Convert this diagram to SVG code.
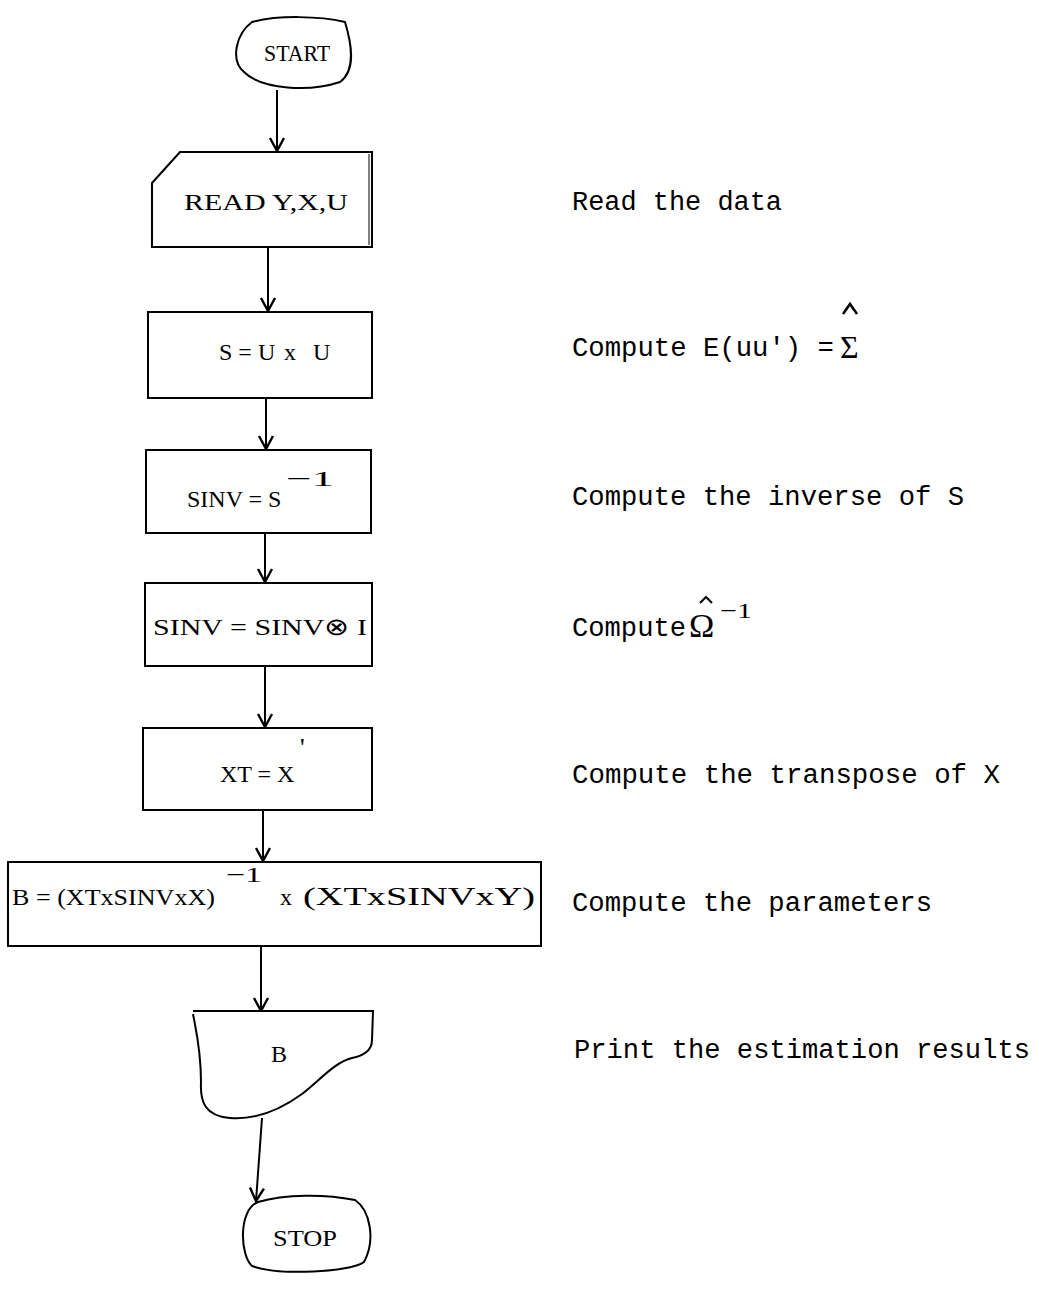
<svg xmlns="http://www.w3.org/2000/svg" width="1039" height="1295" viewBox="0 0 1039 1295">
<defs>
<marker id="ah" viewBox="0 0 20 20" refX="17" refY="10" markerWidth="20" markerHeight="20" markerUnits="userSpaceOnUse" orient="auto">
<path d="M4,3 L17,10 L4,17" fill="none" stroke="#000" stroke-width="2.4"/>
</marker>
<style>
.sh{fill:#fff;stroke:#000;stroke-width:2}
.bt{font-family:"Liberation Serif",serif;font-size:24px;fill:#000}
.sup{font-family:"Liberation Serif",serif;font-size:22px;fill:#000}
.lb{font-family:"Liberation Mono",monospace;font-size:27px;fill:#000}
.cn{fill:none;stroke:#000;stroke-width:2;marker-end:url(#ah)}
</style>
</defs>
<rect width="1039" height="1295" fill="#fff"/>
<g id="connectors">
<path class="cn" d="M277,90 L277,151"/>
<path class="cn" d="M268,248 L268,311"/>
<path class="cn" d="M266,398 L266,449"/>
<path class="cn" d="M265,533 L265,582"/>
<path class="cn" d="M265,666 L265,727"/>
<path class="cn" d="M263,810 L263,861"/>
<path class="cn" d="M261,946 L261,1011"/>
<path class="cn" d="M262,1118 L256,1201"/>
</g>
<g id="start">
<path class="sh" d="M252,22 C236,34 230,60 244,72 C262,90 310,92 340,82 C356,70 352,45 345,22 C320,16 278,15 252,22 Z"/>
<text class="bt" x="264" y="61" textLength="66" lengthAdjust="spacingAndGlyphs" style="font-size:23px">START</text>
</g>
<g id="read">
<path class="sh" d="M180,152 L372,152 L372,247 L152,247 L152,183 Z"/>
<line x1="369" y1="154" x2="369" y2="245" stroke="#000" stroke-width="1"/>
<text class="bt" x="184" y="210" textLength="164" lengthAdjust="spacingAndGlyphs" style="font-size:23px">READ Y,X,U</text>
</g>
<g id="s">
<rect class="sh" x="148" y="312" width="224" height="86"/>
<text class="bt" x="219" y="360">S = U</text>
<text class="bt" x="284" y="360">x</text>
<text class="bt" x="313" y="360">U</text>
</g>
<g id="sinv">
<rect class="sh" x="146" y="450" width="225" height="83"/>
<text class="bt" x="187" y="507">SINV = S</text>
<text class="sup" x="286" y="486" textLength="48" lengthAdjust="spacingAndGlyphs">−1</text>
</g>
<g id="kron">
<rect class="sh" x="145" y="583" width="227" height="83"/>
<text class="bt" x="153" y="635" textLength="214" lengthAdjust="spacingAndGlyphs">SINV = SINV⊗ I</text>
</g>
<g id="xt">
<rect class="sh" x="143" y="728" width="229" height="82"/>
<text class="bt" x="220" y="782">XT = X</text>
<text class="sup" x="300" y="756" style="font-size:26px">'</text>
</g>
<g id="b">
<rect class="sh" x="8" y="862" width="533" height="84"/>
<text class="bt" x="12" y="905" textLength="203" lengthAdjust="spacingAndGlyphs">B = (XTxSINVxX)</text>
<text class="sup" x="226" y="882" textLength="36" lengthAdjust="spacingAndGlyphs">−1</text>
<text class="bt" x="280" y="905">x</text>
<text class="bt" x="303" y="905" textLength="232" lengthAdjust="spacingAndGlyphs" style="font-size:25px">(XTxSINVxY)</text>
</g>
<g id="print">
<path class="sh" d="M193,1011 L373,1011 L372,1040 C372,1052 362,1056 352,1058 C335,1062 320,1080 302,1094 C280,1110 255,1120 230,1118 C205,1116 200,1102 201,1082 C201,1050 196,1030 193,1014"/>
<line x1="193" y1="1011" x2="373" y2="1011" stroke="#000" stroke-width="2"/>
<text class="bt" x="279" y="1062" text-anchor="middle">B</text>
</g>
<g id="stop">
<path class="sh" d="M258,1202 C238,1210 240,1255 252,1266 C280,1276 350,1272 364,1262 C376,1240 370,1210 355,1200 C325,1194 285,1194 258,1202 Z"/>
<text class="bt" x="273" y="1246" textLength="64" lengthAdjust="spacingAndGlyphs" style="font-size:23px">STOP</text>
</g>
<g id="labels">
<text class="lb" x="572" y="210" textLength="210" lengthAdjust="spacingAndGlyphs">Read the data</text>
<text class="lb" x="572" y="356" textLength="262" lengthAdjust="spacingAndGlyphs">Compute E(uu') =</text>
<text class="bt" x="840" y="358" style="font-size:32px">Σ</text>
<path d="M843,314 L850,304 L857,314" fill="none" stroke="#000" stroke-width="2.5"/>
<text class="lb" x="572" y="505" textLength="392" lengthAdjust="spacingAndGlyphs">Compute the inverse of S</text>
<text class="lb" x="572" y="636" textLength="114" lengthAdjust="spacingAndGlyphs">Compute</text>
<text class="bt" x="689" y="637" style="font-size:34px">Ω</text>
<path d="M700,603 L706,597 L712,603" fill="none" stroke="#000" stroke-width="2"/>
<text class="sup" x="720" y="618" textLength="32" lengthAdjust="spacingAndGlyphs">−1</text>
<text class="lb" x="572" y="783" textLength="428" lengthAdjust="spacingAndGlyphs">Compute the transpose of X</text>
<text class="lb" x="572" y="911" textLength="360" lengthAdjust="spacingAndGlyphs">Compute the parameters</text>
<text class="lb" x="574" y="1058" textLength="456" lengthAdjust="spacingAndGlyphs">Print the estimation results</text>
</g>
</svg>
